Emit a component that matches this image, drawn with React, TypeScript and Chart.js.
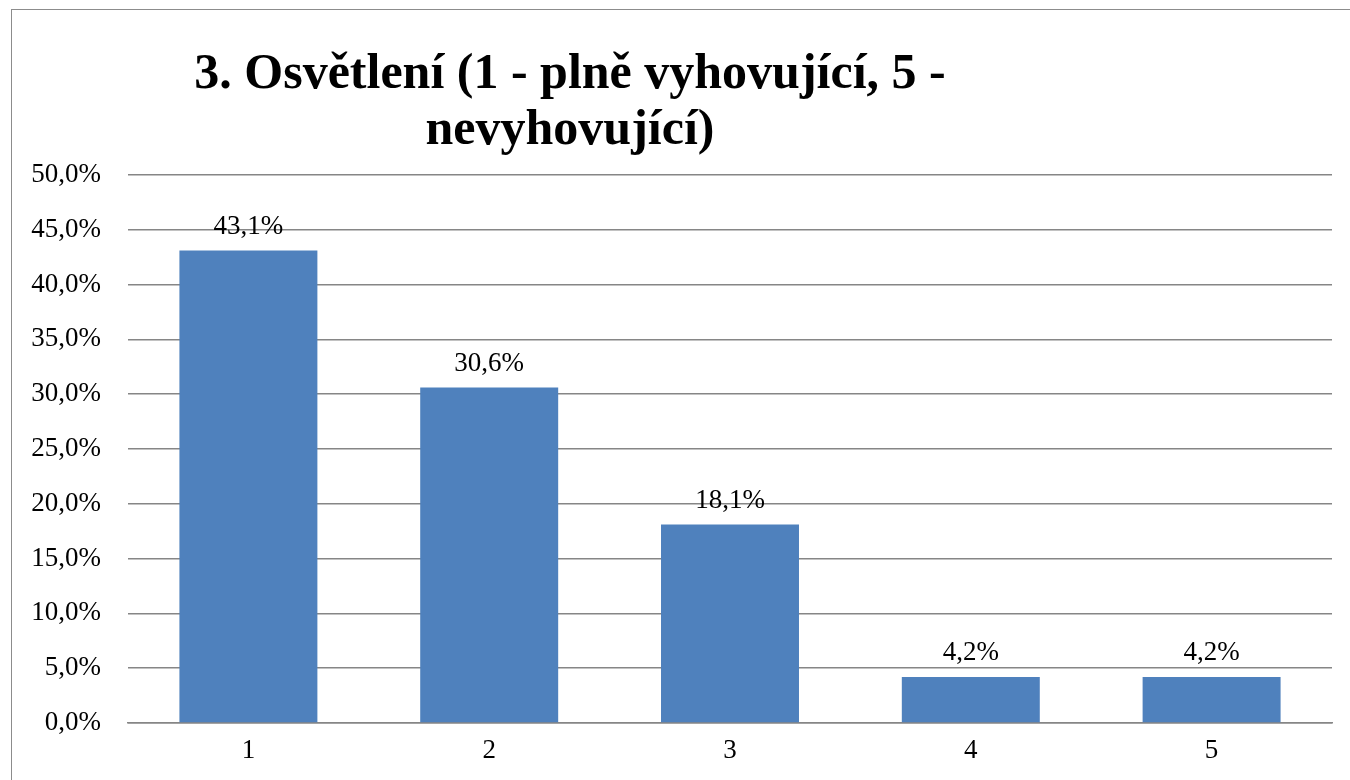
import React, { useEffect, useRef } from "react";
import { Chart, registerables } from "chart.js";

Chart.register(...registerables);

const categories = ["1", "2", "3", "4", "5"];
const values = [43.1, 30.6, 18.1, 4.2, 4.2];
const titleLines = ["3. Osvětlení (1 - plně vyhovující, 5 -", "nevyhovující)"];
const yMin = 0;
const yMax = 50;
const yStep = 5;

const SERIF = '"Liberation Serif", "DejaVu Serif", serif';
const fmt = (v: number) => v.toFixed(1).replace(".", ",") + "%";

export default function App() {
  const ref = useRef<HTMLCanvasElement | null>(null);
  useEffect(() => {
    if (!ref.current) return;
    const titlePlugin = {
      id: "titlePlugin",
      afterDraw(chart: any) {
        const ctx = chart.ctx;
        ctx.save();
        ctx.fillStyle = "#000";
        ctx.font = `bold 50px ${SERIF}`;
        ctx.textAlign = "center";
        ctx.textBaseline = "alphabetic";
        ctx.fillText(titleLines[0], 570, 88);
        ctx.fillText(titleLines[1], 570, 144);
        ctx.restore();
      },
    };
    const labelPlugin = {
      id: "labelPlugin",
      afterDatasetsDraw(chart: any) {
        const ctx = chart.ctx;
        const meta = chart.getDatasetMeta(0);
        ctx.save();
        ctx.fillStyle = "#000";
        ctx.font = `27px ${SERIF}`;
        ctx.textAlign = "center";
        ctx.textBaseline = "alphabetic";
        meta.data.forEach((bar: any, i: number) => {
          ctx.fillText(fmt(values[i]), bar.x, bar.y - 17);
        });
        ctx.restore();
      },
    };
    const chart = new Chart(ref.current, {
      type: "bar",
      data: {
        labels: categories,
        datasets: [
          {
            data: values,
            backgroundColor: "#4F81BD",
            borderWidth: 0,
            categoryPercentage: 1,
            barPercentage: 0.573,
          },
        ],
      },
      options: {
        responsive: false,
        animation: false,
        layout: { padding: { top: 175, right: 18, left: 0, bottom: 0 } },
        plugins: {
          legend: { display: false },
          title: { display: false },
          tooltip: { enabled: false },
        },
        scales: {
          x: {
            grid: { display: false, drawTicks: false },
            border: { display: true, color: "#868686", width: 1.5 },
            ticks: { color: "#000", font: { family: SERIF, size: 27 }, padding: 12 },
            afterFit(scale: any) {
              scale.height = 57;
            },
          },
          y: {
            min: yMin,
            max: yMax,
            grid: { color: "#868686", lineWidth: 1.5, drawTicks: false },
            border: { display: false },
            ticks: {
              stepSize: yStep,
              color: "#000",
              font: { family: SERIF, size: 27 },
              padding: 27,
              callback: (v: any) => fmt(Number(v)),
            },
            afterFit(scale: any) {
              scale.width = 128;
            },
          },
        },
      },
      plugins: [titlePlugin, labelPlugin],
    } as any);
    return () => chart.destroy();
  }, []);
  return (
    <div style={{ position: "fixed", left: 0, top: 0, width: 1350, height: 780, background: "#fff", overflow: "hidden" }}>
      <div
        style={{
          position: "absolute",
          left: 11,
          top: 9,
          width: 1500,
          height: 1000,
          border: "1.5px solid #8c8c8c",
          boxSizing: "border-box",
        }}
      />
      <canvas ref={ref} width={1350} height={780} style={{ position: "absolute", left: 0, top: 0, display: "block" }} />
    </div>
  );
}
